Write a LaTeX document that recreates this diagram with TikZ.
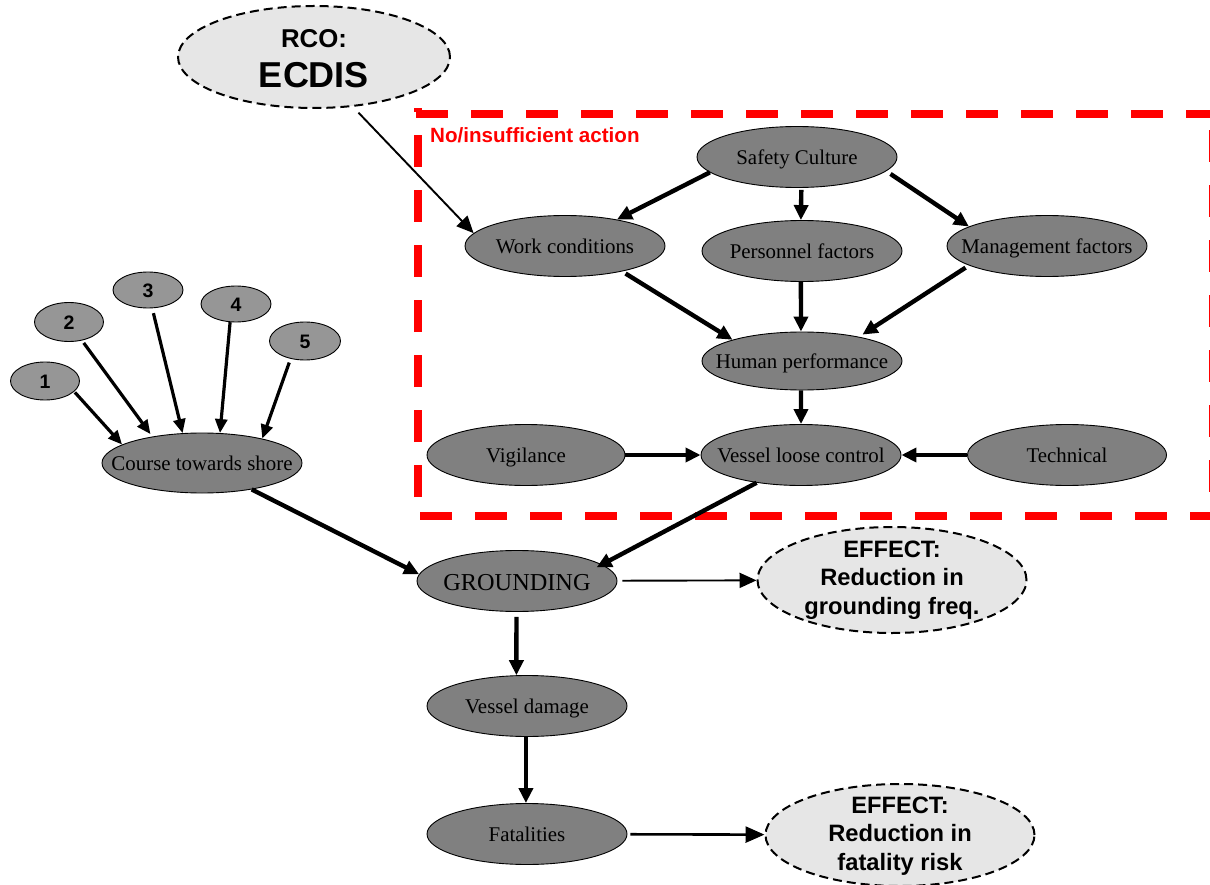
\documentclass[tikz,border=0pt]{standalone}
\usepackage{fontspec}
\setmainfont{Liberation Serif}
\newfontfamily\labelsans{Liberation Sans}
\usetikzlibrary{shapes.geometric,arrows.meta}

\definecolor{nodegray}{RGB}{128,128,128}
\definecolor{numgray}{RGB}{150,150,150}
\definecolor{notefill}{RGB}{230,230,230}
\definecolor{alertred}{RGB}{255,0,0}

% text of zero width, so that the ellipse keeps its given size
\newcommand{\onetext}[1]{\makebox[0pt]{#1}}
% several centred lines; #1 = depth of the last baseline below the centre
\newcommand{\stacktext}[2]{\makebox[0pt]{\smash{\raisebox{-#1}{\begin{tabular}[b]{@{}c@{}}#2\end{tabular}}}}}

\begin{document}
\begin{tikzpicture}[x=1pt,y=-1pt,
  factor/.style={ellipse, draw=black, line width=0.9pt, fill=nodegray,
    minimum width=200pt, minimum height=61pt, inner sep=0pt,
    text height=15.7pt, text depth=0pt, text=black,
    font=\fontsize{20.9}{24}\selectfont},
  numnode/.style={ellipse, draw=black, line width=0.9pt, fill=numgray,
    minimum width=69pt, minimum height=38pt, inner sep=0pt,
    text height=14.5pt, text depth=0pt,
    font=\labelsans\bfseries\fontsize{19.5}{22}\selectfont},
  note/.style={ellipse, draw=black, line width=2pt,
    dash pattern=on 9pt off 5pt, fill=notefill,
    minimum width=269pt, minimum height=106pt, inner sep=0pt,
    font=\labelsans\bfseries\fontsize{23.7}{28.5}\selectfont},
  link/.style={line width=4.4pt, -{Triangle[length=15pt,width=14pt]}},
  numlink/.style={line width=3.2pt, -{Triangle[length=14pt,width=12pt]}},
  thinlink/.style={line width=1.9pt, -{Triangle[length=17pt,width=15pt]}},
  effectlink/.style={line width=2.6pt, -{Triangle[length=19pt,width=16pt]}},
  redframe/.style={draw=alertred, line width=8pt, dash pattern=on 32pt off 23pt}
]
\useasboundingbox (0,0) rectangle (1210,885);

% dashed frame around the causal part
\draw[redframe] (420,516) -- (1215,516);
\draw[redframe] (418,497) -- (418,108);
\draw[redframe] (416,114) -- (1215,114);
\draw[redframe] (1213,130) -- (1213,512);
\node[anchor=base west, inner sep=0pt, text=alertred,
      font=\labelsans\bfseries\fontsize{20.6}{24}\selectfont]
      (frametitle) at (430,143) {No/insufficient action};

% risk control option and effects
\node[note, minimum width=272pt, minimum height=102pt,
      font=\labelsans\bfseries\fontsize{25.8}{31}\selectfont]
      (rco) at (314,57) {\stacktext{31pt}{RCO:\\[6pt]\fontsize{36}{40}\selectfont ECDIS}};
\node[note] (e1) at (892,580) {\stacktext{34pt}{EFFECT:\\Reduction in\\grounding freq.}};
\node[note, minimum height=102pt] (e2) at (900,835) {\stacktext{35pt}{EFFECT:\\Reduction in\\fatality risk}};

% factors
\node[factor] (sc) at (797,157) {\onetext{Safety Culture}};
\node[factor] (wc) at (565,246) {\onetext{Work conditions}};
\node[factor] (pf) at (802,251) {\onetext{Personnel factors}};
\node[factor] (mf) at (1047,246) {\onetext{Management factors}};
\node[factor, minimum height=58pt] (hp) at (802,361) {\onetext{Human performance}};
\node[factor, minimum width=198pt] (vg) at (526,455) {\onetext{Vigilance}};
\node[factor] (vl) at (801,455) {\onetext{Vessel loose control}};
\node[factor, minimum width=199pt] (te) at (1067,455) {\onetext{Technical}};
\node[factor, minimum height=60pt] (cs) at (202,463) {\onetext{Course towards shore}};
\node[factor, font=\fontsize{24.3}{28}\selectfont, text height=18.5pt]
      (gr) at (517,581) {\onetext{GROUNDING}};
\node[factor] (vd) at (527,706) {\onetext{Vessel damage}};
\node[factor] (fa) at (527,834) {\onetext{Fatalities}};

% numbered causes
\node[numnode] (n1) at (45,381) {\onetext{1}};
\node[numnode, minimum height=39pt] (n2) at (69,322) {\onetext{2}};
\node[numnode, minimum width=70pt, minimum height=36pt] (n3) at (148,290) {\onetext{3}};
\node[numnode, minimum width=70pt, minimum height=36pt] (n4) at (236,304) {\onetext{4}};
\node[numnode, minimum width=71pt] (n5) at (305,341) {\onetext{5}};

% connectors
\draw[link] (sc.190) -- (wc.27.5);
\draw[link, shorten <=2pt] (sc.-82.5) -- (pf.92);
\draw[link, shorten <=5pt] (sc.-9.9) -- (mf.166.6);
\draw[link, shorten <=4pt] (wc.-24.6) -- (hp.163.3);
\draw[link] (pf.-92) -- (hp.92);
\draw[link, shorten <=4pt, shorten >=4pt] (mf.194.9) -- (hp.23.4);
\draw[link] (hp.-92) -- (vl.90);
\draw[link] (vg) -- (vl);
\draw[link] (te) -- (vl);
\draw[link, shorten >=-6pt] (vl.212.5) -- (gr.11.4);
\draw[link] (cs.-28.9) -- (gr.176.5);
\draw[link, shorten <=5pt] (gr.-91.9) -- (vd.109.8);
\draw[link] (vd.-92) -- (fa.92);
\draw[thinlink, shorten <=5pt] (gr) -- (e1);
\draw[effectlink, shorten <=3pt] (fa) -- (e2);
\draw[thinlink, shorten <=8pt] (rco.-52.7) -- (wc.172);

\draw[numlink, shorten <=1pt] (n1.-20.1) -- (cs.167.3);
\draw[numlink, shorten <=3pt, shorten >=3pt] (n2.-55) -- (cs.152.6);
\draw[numlink, shorten <=5pt] (n3.-77.7) -- (cs.123.7);
\draw[numlink] (n4.-108.4) -- (cs.59);
\draw[numlink, shorten <=4pt] (n5.-129) -- (cs.22.6);
\end{tikzpicture}
\end{document}
